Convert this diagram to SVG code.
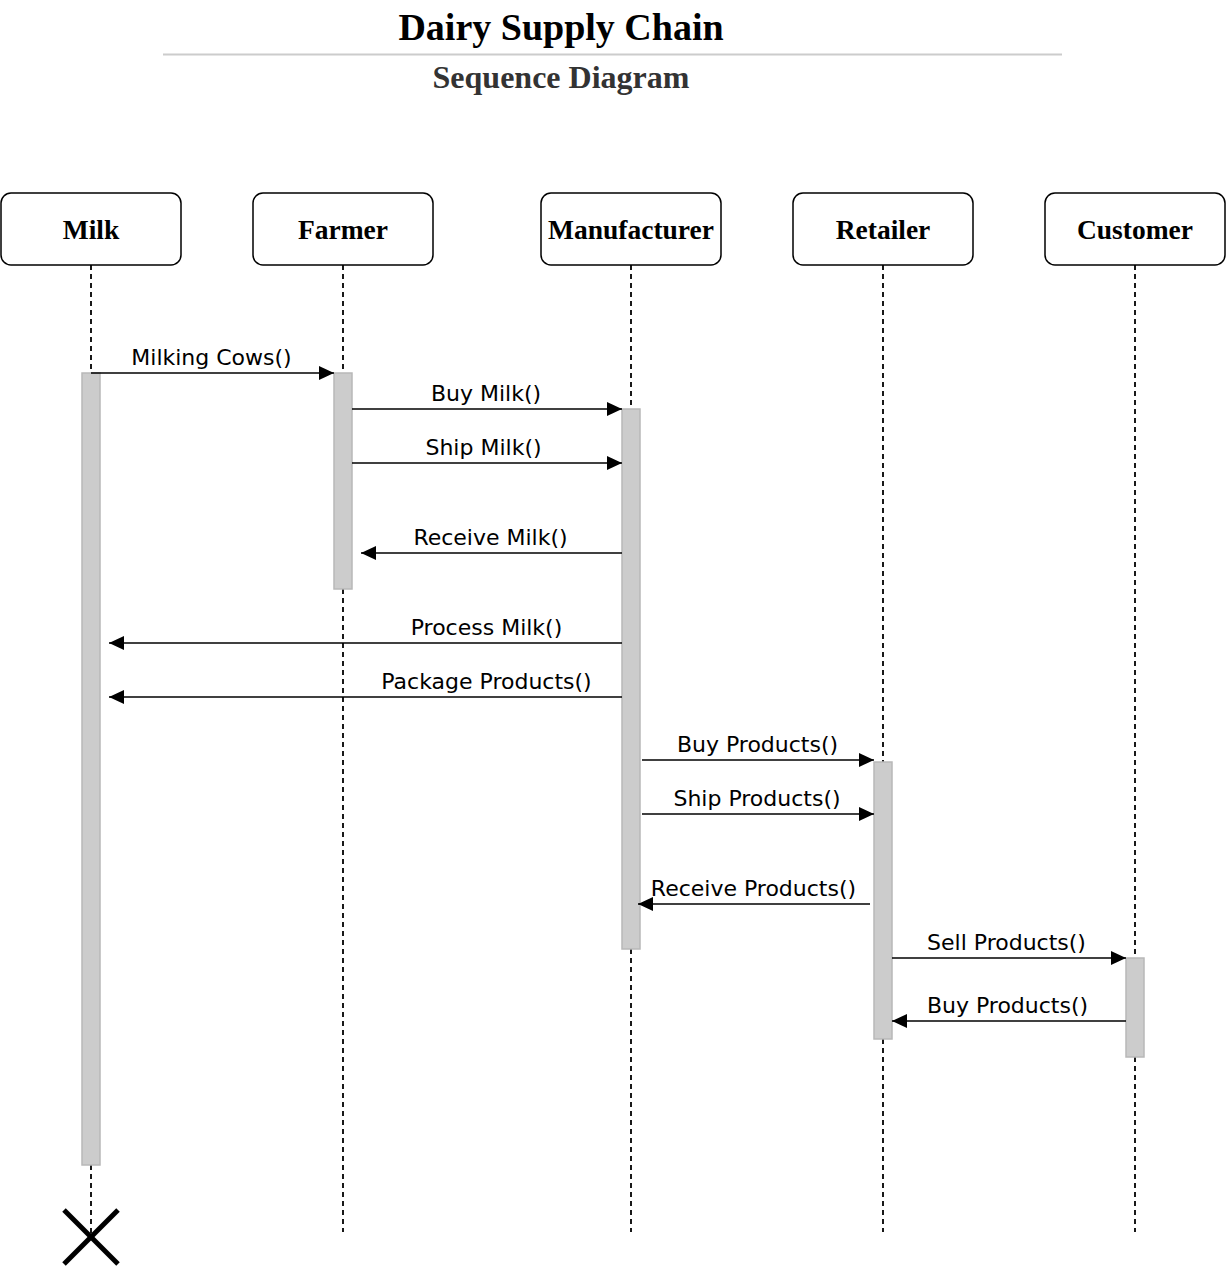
<svg xmlns="http://www.w3.org/2000/svg" width="1226" height="1269" viewBox="0 0 1226 1269">
<style>
.title{font-family:"Liberation Serif",serif;font-weight:bold;text-anchor:middle}
.box{fill:#fff;stroke:#000;stroke-width:1.5}
.lbl{font-family:"Liberation Serif",serif;font-weight:bold;font-size:27.5px;text-anchor:middle;fill:#000}
.life{stroke:#000;stroke-width:1.8;stroke-dasharray:5 4;fill:none}
.act{fill:#cccccc;stroke:#b8b8b8;stroke-width:1.5}
.msg{stroke:#000;stroke-width:1.6;fill:none;marker-end:url(#arr)}
.mt{font-family:"DejaVu Sans",Verdana,sans-serif;font-size:22px;text-anchor:middle;fill:#000}
</style>
<defs>
<marker id="arr" viewBox="0 0 15 14" refX="15" refY="7" markerWidth="15" markerHeight="14" markerUnits="userSpaceOnUse" orient="auto">
<path d="M0,0 L15,7 L0,14 z" fill="#000"/>
</marker>
</defs>
<rect width="1226" height="1269" fill="#fff"/>
<g id="title">
<text class="title" x="561" y="40" font-size="38" fill="#000">Dairy Supply Chain</text>
<line x1="163" y1="54.5" x2="1062" y2="54.5" stroke="#cccccc" stroke-width="2"/>
<text class="title" x="561" y="88" font-size="32" fill="#333">Sequence Diagram</text>
</g>
<g id="lifelines">
<line class="life" x1="91" y1="265" x2="91" y2="1240"/>
<line class="life" x1="343" y1="265" x2="343" y2="1232"/>
<line class="life" x1="631" y1="265" x2="631" y2="1232"/>
<line class="life" x1="883" y1="265" x2="883" y2="1232"/>
<line class="life" x1="1135" y1="265" x2="1135" y2="1232"/>
</g>
<g id="milk">
<rect class="box" x="1" y="193" width="180" height="72" rx="10"/>
<text class="lbl" x="91" y="239">Milk</text>
<rect class="act" x="82" y="373" width="18" height="792"/>
</g>
<g id="farmer">
<rect class="box" x="253" y="193" width="180" height="72" rx="10"/>
<text class="lbl" x="343" y="239">Farmer</text>
<rect class="act" x="334" y="373" width="18" height="216"/>
</g>
<g id="manufacturer">
<rect class="box" x="541" y="193" width="180" height="72" rx="10"/>
<text class="lbl" x="631" y="239">Manufacturer</text>
<rect class="act" x="622" y="409" width="18" height="540"/>
</g>
<g id="retailer">
<rect class="box" x="793" y="193" width="180" height="72" rx="10"/>
<text class="lbl" x="883" y="239">Retailer</text>
<rect class="act" x="874" y="762" width="18" height="277"/>
</g>
<g id="customer">
<rect class="box" x="1045" y="193" width="180" height="72" rx="10"/>
<text class="lbl" x="1135" y="239">Customer</text>
<rect class="act" x="1126" y="958" width="18" height="99"/>
</g>
<g id="connectors">
<line class="msg" x1="91" y1="373" x2="334" y2="373"/>
<text class="mt" x="211.5" y="365">Milking Cows()</text>
<line class="msg" x1="352" y1="409" x2="622" y2="409"/>
<text class="mt" x="486" y="401">Buy Milk()</text>
<line class="msg" x1="352" y1="463" x2="622" y2="463"/>
<text class="mt" x="483.5" y="455">Ship Milk()</text>
<line class="msg" x1="622" y1="553" x2="361" y2="553"/>
<text class="mt" x="490.5" y="545">Receive Milk()</text>
<line class="msg" x1="622" y1="643" x2="109" y2="643"/>
<text class="mt" x="486.5" y="635">Process Milk()</text>
<line class="msg" x1="622" y1="697" x2="109" y2="697"/>
<text class="mt" x="486.5" y="689">Package Products()</text>
<line class="msg" x1="642" y1="760" x2="874" y2="760"/>
<text class="mt" x="757.5" y="752">Buy Products()</text>
<line class="msg" x1="642" y1="814" x2="874" y2="814"/>
<text class="mt" x="757" y="806">Ship Products()</text>
<line class="msg" x1="870" y1="904" x2="638" y2="904"/>
<text class="mt" x="753.5" y="896">Receive Products()</text>
<line class="msg" x1="892" y1="958" x2="1126" y2="958"/>
<text class="mt" x="1006.5" y="950">Sell Products()</text>
<line class="msg" x1="1126" y1="1021" x2="892" y2="1021"/>
<text class="mt" x="1007.5" y="1013">Buy Products()</text>
</g>
<g id="destroy" stroke="#000" stroke-width="5">
<line x1="64" y1="1210" x2="118" y2="1264"/>
<line x1="118" y1="1210" x2="64" y2="1264"/>
</g>
</svg>
